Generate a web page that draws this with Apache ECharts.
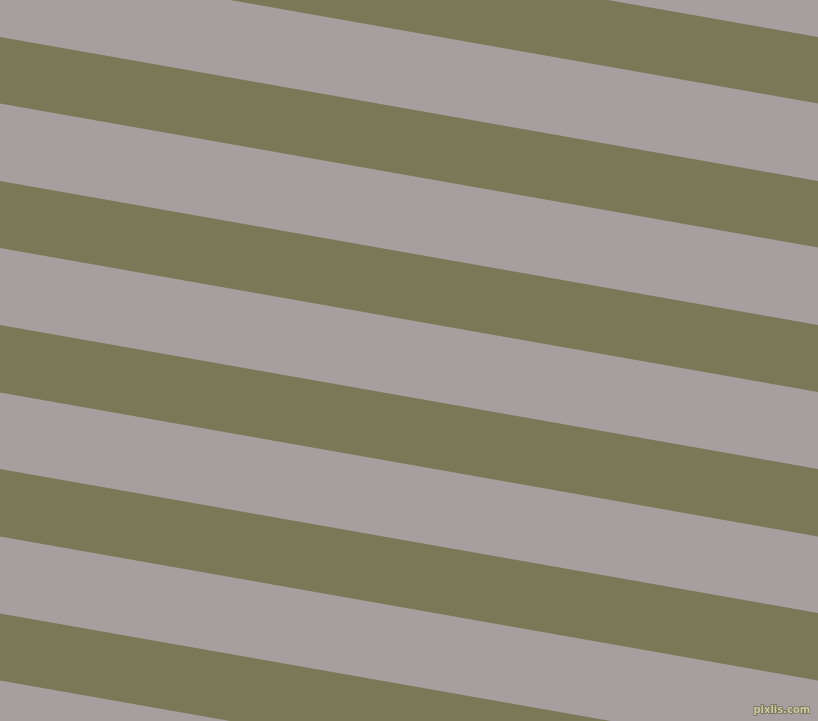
<!DOCTYPE html>
<html>
<head>
<meta charset="utf-8">
<style>
  html, body { margin: 0; padding: 0; background: #a79e9f; }
  #chart { width: 818px; height: 721px; }
</style>
<script src="https://cdn.jsdelivr.net/npm/echarts@6/dist/echarts.min.js"></script>
</head>
<body>
<div id="chart"></div>
<script>
// Olive stripe edges measured at the left edge (y, px from top)
const stripeTops    = [-107, 37, 181, 325, 469, 613.5];
const stripeBottoms = [-40.5, 103.5, 248, 392.5, 536.5, 680.5];
// Vertical drop of every stripe across the full width
const stripeDrop = 144;
const xExtent = [0, 818];
const yExtent = [0, 721];
const watermark = 'pixlis.com';

const chart = echarts.init(document.getElementById('chart'), null, { renderer: 'canvas' });

const data = stripeTops.map((t, i) => [t, stripeBottoms[i]]);

chart.setOption({
  backgroundColor: '#a79e9f',
  animation: false,
  grid: { left: 0, right: 0, top: 0, bottom: 0 },
  xAxis: { type: 'value', min: xExtent[0], max: xExtent[1], show: false },
  yAxis: { type: 'value', min: yExtent[0], max: yExtent[1], inverse: true, show: false },
  series: [{
    type: 'custom',
    data: data,
    clip: true,
    renderItem: function (params, api) {
      const top = api.value(0), bot = api.value(1);
      const pts = [
        api.coord([xExtent[0], top]),
        api.coord([xExtent[1], top + stripeDrop]),
        api.coord([xExtent[1], bot + stripeDrop]),
        api.coord([xExtent[0], bot])
      ];
      return {
        type: 'polygon',
        shape: { points: pts },
        style: { fill: '#7a7856' }
      };
    }
  }],
  graphic: [{
    type: 'text',
    right: 7,
    bottom: 5,
    style: {
      text: watermark,
      font: 'bold 10px "DejaVu Sans"',
      fill: '#cfcba6',
      stroke: '#6f6e50',
      lineWidth: 1.5
    },
    z: 10
  }]
});
</script>
</body>
</html>
